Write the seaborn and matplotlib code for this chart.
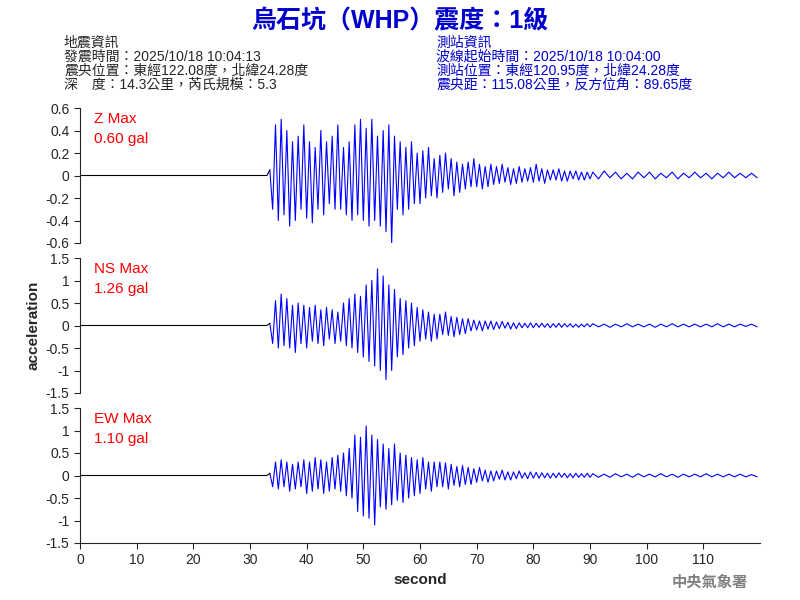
import numpy as np
import matplotlib.pyplot as plt
import seaborn as sns

sns.set_style("white")
plt.rcParams['font.family'] = ['Liberation Sans', 'Noto Sans CJK TC', 'DejaVu Sans']

# signed peak values, every 0.5 s from 33 s to 90 s
z_main = [0.05,-0.3,0.45,-0.4,0.5,-0.35,0.4,-0.45,0.3,-0.4,
          0.35,-0.3,0.45,-0.38,0.3,-0.42,0.25,-0.3,0.4,-0.35,
          0.3,-0.25,0.35,-0.3,0.45,-0.3,0.25,-0.35,0.3,-0.4,
          0.45,-0.35,0.5,-0.4,0.42,-0.45,0.5,-0.4,0.35,-0.45,
          0.4,-0.5,0.45,-0.6,0.35,-0.3,0.3,-0.35,0.25,-0.3,
          0.3,-0.25,0.2,-0.25,0.22,-0.2,0.25,-0.18,0.15,-0.2,
          0.18,-0.15,0.2,-0.12,0.15,-0.18,0.12,-0.15,0.1,-0.12,
          0.12,-0.1,0.15,-0.1,0.1,-0.12,0.08,-0.1,0.1,-0.08,
          0.08,-0.07,0.1,-0.06,0.07,-0.08,0.06,-0.07,0.08,-0.06,
          0.06,-0.05,0.07,-0.06,0.1,-0.05,0.06,-0.07,0.05,-0.04,
          0.05,-0.04,0.06,-0.05,0.04,-0.05,0.04,-0.03,0.04,-0.04,
          0.03,-0.04,0.03,-0.03]
ns_main = [0.05,-0.4,0.55,-0.5,0.7,-0.45,0.6,-0.5,0.45,-0.6,
           0.5,-0.4,0.45,-0.5,0.4,-0.35,0.45,-0.4,0.35,-0.45,
           0.4,-0.3,0.35,-0.4,0.3,-0.35,0.5,-0.45,0.6,-0.5,
           0.7,-0.6,0.65,-0.7,0.9,-0.8,1.0,-0.9,1.26,-1.0,
           1.1,-1.2,0.9,-1.0,0.8,-0.7,0.6,-0.65,0.55,-0.5,
           0.5,-0.45,0.4,-0.35,0.35,-0.3,0.3,-0.35,0.25,-0.3,
           0.25,-0.2,0.3,-0.22,0.2,-0.25,0.18,-0.2,0.15,-0.18,
           0.15,-0.12,0.12,-0.1,0.1,-0.12,0.1,-0.08,0.1,-0.09,
           0.08,-0.07,0.09,-0.06,0.07,-0.08,0.06,-0.07,0.06,-0.05,
           0.05,-0.05,0.06,-0.05,0.05,-0.04,0.05,-0.04,0.04,-0.05,
           0.04,-0.04,0.05,-0.04,0.04,-0.03,0.04,-0.04,0.03,-0.04,
           0.03,-0.03,0.04,-0.03]
ew_main = [0.05,-0.25,0.3,-0.3,0.35,-0.25,0.3,-0.35,0.25,-0.3,
           0.3,-0.25,0.35,-0.4,0.3,-0.35,0.4,-0.3,0.35,-0.4,
           0.3,-0.35,0.4,-0.3,0.45,-0.35,0.5,-0.45,0.6,-0.5,
           0.9,-0.8,0.85,-0.9,1.1,-0.95,0.9,-1.1,0.8,-0.7,
           0.7,-0.75,0.6,-0.65,0.7,-0.55,0.5,-0.6,0.45,-0.5,
           0.4,-0.45,0.35,-0.4,0.4,-0.3,0.3,-0.35,0.3,-0.25,
           0.3,-0.25,0.28,-0.3,0.25,-0.22,0.2,-0.25,0.22,-0.2,
           0.18,-0.2,0.15,-0.15,0.18,-0.12,0.12,-0.15,0.1,-0.12,
           0.1,-0.08,0.12,-0.1,0.08,-0.1,0.08,-0.07,0.1,-0.06,
           0.06,-0.07,0.08,-0.06,0.07,-0.06,0.06,-0.05,0.05,-0.06,
           0.05,-0.05,0.06,-0.04,0.05,-0.05,0.04,-0.05,0.05,-0.04,
           0.04,-0.04,0.05,-0.04]
# tail values every 1 s from 90 s to 119 s
z_tail = [0.03,-0.03,0.04,-0.02,0.03,-0.03,0.02,-0.03,0.03,-0.02,
          0.03,-0.03,0.02,-0.02,0.03,-0.03,0.02,-0.02,0.03,-0.02,
          0.02,-0.03,0.02,-0.02,0.03,-0.02,0.02,-0.02,0.02,-0.02]
ns_tail = [0.04,-0.03,0.03,-0.04,0.03,-0.03,0.04,-0.03,0.03,-0.03,
           0.03,-0.04,0.03,-0.03,0.04,-0.03,0.03,-0.03,0.03,-0.03,
           0.03,-0.03,0.04,-0.03,0.03,-0.03,0.03,-0.02,0.03,-0.03]
ew_tail = [0.04,-0.04,0.03,-0.04,0.04,-0.03,0.03,-0.04,0.04,-0.03,
           0.03,-0.03,0.04,-0.03,0.03,-0.04,0.03,-0.03,0.03,-0.03,
           0.04,-0.03,0.03,-0.03,0.03,-0.03,0.03,-0.03,0.02,-0.03]

labels = ["Z Max\n0.60 gal", "NS Max\n1.26 gal", "EW Max\n1.10 gal"]
ylims = [0.6, 1.5, 1.5]
yticks = [np.arange(-0.6, 0.61, 0.2), np.arange(-1.5, 1.51, 0.5), np.arange(-1.5, 1.51, 0.5)]
xticks = list(range(0, 120, 10))

fig = plt.figure(figsize=(8, 6), dpi=100)
bottoms = [0.595, 0.345, 0.095]
traces = [(z_main, z_tail), (ns_main, ns_tail), (ew_main, ew_tail)]
for i, (main, tail) in enumerate(traces):
    ax = fig.add_axes([0.1, bottoms[i], 0.85, 0.225])
    t_pre = np.arange(0, 33.5, 0.5)
    t_main = 33.5 + 0.5 * np.arange(len(main))
    t_tail = 90.5 + np.arange(len(tail))
    t = np.concatenate([t_pre, t_main, t_tail])
    y = np.concatenate([np.zeros(len(t_pre)), main, tail])
    ax.plot(t[:len(t_pre) + 1], y[:len(t_pre) + 1], color='black', lw=0.8)
    sns.lineplot(x=t[len(t_pre):], y=y[len(t_pre):], ax=ax, color='blue', lw=0.8)
    ax.set_xlim(0, 120)
    ax.set_ylim(-ylims[i], ylims[i])
    ax.set_yticks(yticks[i])
    ax.set_yticklabels([f"{v:g}" if abs(v) > 1e-9 else "0" for v in np.round(yticks[i], 1)], fontsize=10)
    ax.tick_params(axis='y', direction='out', length=4, left=True)
    for s in ['top', 'right']:
        ax.spines[s].set_visible(False)
    if i < 2:
        ax.spines['bottom'].set_visible(False)
        ax.set_xticks([])
    else:
        ax.set_xticks(xticks)
        ax.tick_params(axis='x', direction='out', length=4, bottom=True, labelsize=10)
        ax.set_xlabel("second", fontsize=11, fontweight='bold')
    ax.text(0.02, 0.97, labels[i], transform=ax.transAxes, color='red',
            fontsize=11, va='top', linespacing=1.5)
    if i == 1:
        ax.set_ylabel("acceleration", fontsize=11, fontweight='bold')

fig.text(0.5, 0.965, "烏石坑（WHP）震度：1級", color='#0000cc', fontsize=18,
         fontweight='bold', ha='center', va='center')
fig.text(0.08, 0.94, "地震資訊\n發震時間：2025/10/18 10:04:13\n震央位置：東經122.08度，北緯24.28度\n深　度：14.3公里，芮氏規模：5.3",
         fontsize=10, va='top', linespacing=1.0)
fig.text(0.545, 0.94, "測站資訊\n波線起始時間：2025/10/18 10:04:00\n測站位置：東經120.95度，北緯24.28度\n震央距：115.08公里，反方位角：89.65度",
         fontsize=10, va='top', linespacing=1.0, color='#0000cc')
fig.text(0.935, 0.03, "中央氣象署", color='gray', fontsize=11, ha='right', va='center', fontweight='bold')

fig.savefig("out.png", dpi=100)
